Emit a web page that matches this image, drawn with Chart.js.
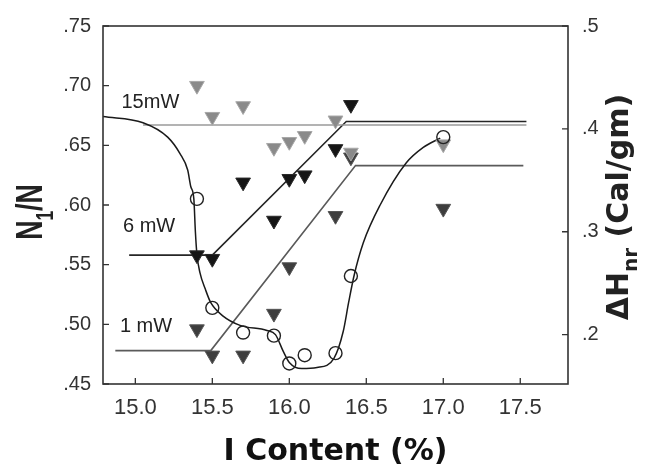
<!DOCTYPE html>
<html>
<head>
<meta charset="utf-8">
<script src="https://cdn.jsdelivr.net/npm/chart.js@4/dist/chart.umd.min.js"></script>
<style>
  html, body { margin: 0; padding: 0; background: #fff; }
  #wrap { width: 650px; height: 468px; }
</style>
</head>
<body>
<div id="wrap"><canvas id="chart" width="650" height="468"></canvas></div>
<script>
// axis ticks
const xTicks = [15.0, 15.5, 16.0, 16.5, 17.0, 17.5];
const nTicks = [0.45, 0.50, 0.55, 0.60, 0.65, 0.70, 0.75];
const hTicks = [0.2, 0.3, 0.4, 0.5];

// N1/N threshold points for each laser power
const mw15X = [15.4, 15.5, 15.7, 15.9, 16.0, 16.1, 16.3, 16.4, 17.0];
const mw15Y = [0.700, 0.674, 0.683, 0.648, 0.653, 0.658, 0.671, 0.644, 0.651];
const mw6X = [15.4, 15.5, 15.7, 15.9, 16.0, 16.1, 16.3, 16.4];
const mw6Y = [0.558, 0.555, 0.619, 0.587, 0.622, 0.625, 0.647, 0.684];
const mw1X = [15.4, 15.5, 15.7, 15.9, 16.0, 16.3, 16.4, 17.0];
const mw1Y = [0.496, 0.474, 0.474, 0.509, 0.548, 0.591, 0.640, 0.597];

// guide lines (flat / rising / flat)
const line15X = [15.05, 17.54];
const line15Y = [0.667, 0.667];
const line6X = [14.96, 15.50, 16.37, 17.54];
const line6Y = [0.558, 0.558, 0.670, 0.670];
const line1X = [14.87, 15.49, 16.43, 17.52];
const line1Y = [0.478, 0.478, 0.633, 0.633];

// heat of non-reversing transition (right axis)
const dhX = [15.4, 15.5, 15.7, 15.9, 16.0, 16.1, 16.3, 16.4, 17.0];
const dhY = [0.332, 0.226, 0.202, 0.199, 0.172, 0.180, 0.182, 0.257, 0.392];
const fitX = [14.79, 15.05, 15.21, 15.29, 15.34, 15.36, 15.38, 15.39, 15.40, 15.42,
  15.455, 15.49, 15.57, 15.68, 15.855, 15.91, 15.96, 16.00, 16.08, 16.18,
  16.29, 16.35, 16.385, 16.42, 16.48, 16.59, 16.76, 16.87, 16.98];
const fitY = [0.412, 0.406, 0.392, 0.376, 0.360, 0.344, 0.332, 0.300, 0.278, 0.260,
  0.244, 0.231, 0.218, 0.209, 0.204, 0.200, 0.184, 0.173, 0.167, 0.168,
  0.177, 0.203, 0.231, 0.257, 0.289, 0.326, 0.367, 0.382, 0.391];

const powerLabels = [
  { text: '15mW', x: 14.91, y: 0.686 },
  { text: '6 mW', x: 14.92, y: 0.582 },
  { text: '1 mW', x: 14.90, y: 0.498 }
];

const pts = (xs, ys) => xs.map((x, i) => ({ x, y: ys[i] }));

const tri = (xs, ys, color, edge) => ({
  data: pts(xs, ys),
  showLine: false,
  pointStyle: 'triangle',
  rotation: 180,
  pointRadius: 8.5,
  backgroundColor: color,
  borderColor: edge,
  borderWidth: 1,
  yAxisID: 'y',
  order: 2
});

const guide = (xs, ys, color) => ({
  data: pts(xs, ys),
  showLine: true,
  pointRadius: 0,
  borderColor: color,
  borderWidth: 1.6,
  tension: 0,
  yAxisID: 'y',
  order: 4
});

// frame, inward tick marks, power labels and the two y titles
const decor = {
  id: 'decor',
  afterDraw(chart) {
    const { ctx, chartArea: a, scales } = chart;
    ctx.save();
    ctx.strokeStyle = '#333';
    ctx.lineWidth = 1.6;
    ctx.strokeRect(a.left, a.top, a.right - a.left, a.bottom - a.top);

    ctx.lineWidth = 1.3;
    ctx.beginPath();
    xTicks.forEach(v => {
      const px = scales.x.getPixelForValue(v);
      ctx.moveTo(px, a.bottom); ctx.lineTo(px, a.bottom - 6);
    });
    nTicks.forEach(v => {
      const py = scales.y.getPixelForValue(v);
      ctx.moveTo(a.left, py); ctx.lineTo(a.left + 6, py);
    });
    hTicks.forEach(v => {
      const py = scales.y2.getPixelForValue(v);
      ctx.moveTo(a.right, py); ctx.lineTo(a.right - 6, py);
    });
    ctx.stroke();

    ctx.fillStyle = '#222';
    ctx.font = '20px "Liberation Sans", Arial, sans-serif';
    ctx.textAlign = 'left';
    ctx.textBaseline = 'middle';
    powerLabels.forEach(l => {
      ctx.fillText(l.text, scales.x.getPixelForValue(l.x), scales.y.getPixelForValue(l.y));
    });

    // N1/N, reading upward
    ctx.textBaseline = 'alphabetic';
    const big = 'bold 37px "Liberation Sans", Arial, sans-serif';
    const sub = 'bold 24px "Liberation Sans", Arial, sans-serif';
    ctx.font = big;
    const wN = ctx.measureText('N').width;
    const wTail = ctx.measureText('/N').width;
    ctx.font = sub;
    const w1 = ctx.measureText('1').width;
    const total = wN + w1 + wTail;
    ctx.save();
    ctx.translate(42, 212);
    ctx.rotate(-Math.PI / 2);
    ctx.scale(0.72, 1);
    let x0 = -total / 2;
    ctx.font = big;
    ctx.fillText('N', x0, 0);
    ctx.font = sub;
    ctx.fillText('1', x0 + wN, 11);
    ctx.font = big;
    ctx.fillText('/N', x0 + wN + w1, 0);
    ctx.restore();

    // ΔHnr (Cal/gm)
    const big2 = 'bold 30px "DejaVu Sans", sans-serif';
    const sub2 = 'bold 20px "DejaVu Sans", sans-serif';
    ctx.font = big2;
    const wDH = ctx.measureText('\u0394H').width;
    const wRest = ctx.measureText(' (Cal/gm)').width;
    ctx.font = sub2;
    const wNr = ctx.measureText('nr').width;
    const total2 = wDH + wNr + wRest;
    ctx.save();
    ctx.translate(628, 207);
    ctx.rotate(-Math.PI / 2);
    x0 = -total2 / 2;
    ctx.font = big2;
    ctx.fillText('\u0394H', x0, 0);
    ctx.font = sub2;
    ctx.fillText('nr', x0 + wDH, 9);
    ctx.font = big2;
    ctx.fillText(' (Cal/gm)', x0 + wDH + wNr, 0);
    ctx.restore();

    ctx.restore();
  }
};

const yTickFont = { family: '"Liberation Sans", Arial, sans-serif', size: 20 };
const xTickFont = { family: '"Liberation Sans", Arial, sans-serif', size: 22 };

new Chart(document.getElementById('chart'), {
  type: 'scatter',
  data: {
    datasets: [
      {
        data: pts(dhX, dhY),
        showLine: false,
        pointStyle: 'circle',
        pointRadius: 6.5,
        borderColor: '#222',
        borderWidth: 1.4,
        backgroundColor: 'rgba(0,0,0,0)',
        yAxisID: 'y2',
        order: 1
      },
      {
        data: pts(fitX, fitY),
        showLine: true,
        pointRadius: 0,
        borderColor: '#1a1a1a',
        borderWidth: 1.5,
        cubicInterpolationMode: 'monotone',
        yAxisID: 'y2',
        order: 3
      },
      tri(mw15X, mw15Y, '#8a8a8a', '#a8a8a8'),
      tri(mw6X, mw6Y, '#151515', '#2a2a2a'),
      tri(mw1X, mw1Y, '#3d3d3d', '#555'),
      guide(line15X, line15Y, '#9a9a9a'),
      guide(line6X, line6Y, '#262626'),
      guide(line1X, line1Y, '#5a5a5a')
    ]
  },
  options: {
    responsive: false,
    animation: false,
    events: [],
    layout: { padding: { top: 15, left: 0, right: 0, bottom: 0 } },
    plugins: { legend: { display: false }, tooltip: { enabled: false } },
    scales: {
      x: {
        type: 'linear',
        min: 14.79,
        max: 17.81,
        afterBuildTicks: s => { s.ticks = xTicks.map(value => ({ value })); },
        afterFit: s => { s.height = 84; },
        grid: { display: false, drawTicks: false },
        border: { display: false },
        ticks: { padding: 11, color: '#333', font: xTickFont, maxRotation: 0, autoSkip: false,
          callback: v => v.toFixed(1) },
        title: { display: true, text: 'I Content (%)', color: '#111',
          font: { family: '"DejaVu Sans", sans-serif', size: 30, weight: 'bold', lineHeight: 1.05 },
          padding: { top: 0, bottom: 0 } }
      },
      y: {
        position: 'left',
        min: 0.45,
        max: 0.75,
        afterBuildTicks: s => { s.ticks = nTicks.map(value => ({ value })); },
        afterFit: s => { s.width = 103; },
        grid: { display: false, drawTicks: false },
        border: { display: false },
        ticks: { padding: 12, color: '#333', font: yTickFont,
          callback: v => v.toFixed(2).replace(/^0/, '') }
      },
      y2: {
        position: 'right',
        min: 0.152,
        max: 0.5,
        afterBuildTicks: s => { s.ticks = hTicks.map(value => ({ value })); },
        afterFit: s => { s.width = 82; },
        grid: { display: false, drawTicks: false },
        border: { display: false },
        ticks: { padding: 14, color: '#333', font: yTickFont,
          callback: v => v.toFixed(1).replace(/^0/, '') }
      }
    }
  },
  plugins: [decor]
});
</script>
</body>
</html>
